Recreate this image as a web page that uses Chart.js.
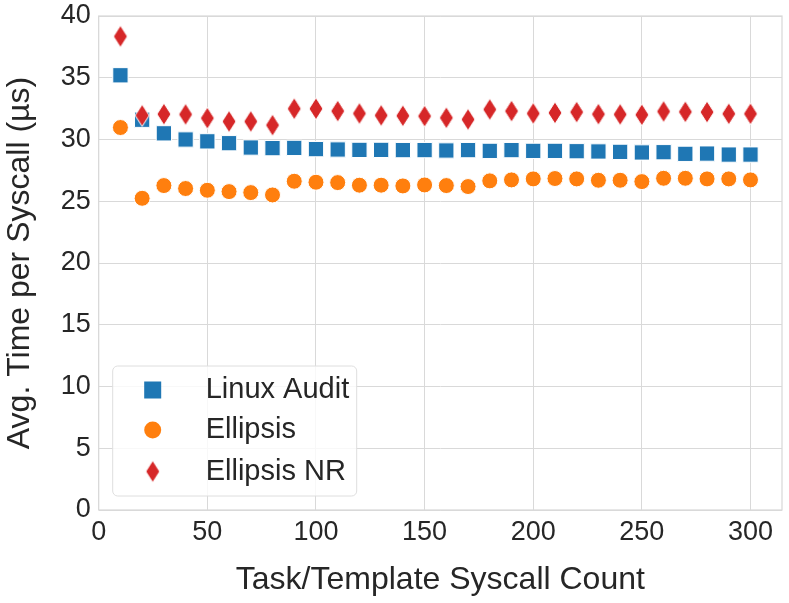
<!DOCTYPE html>
<html><head><meta charset="utf-8">
<script src="https://cdn.jsdelivr.net/npm/chart.js@4.4.1/dist/chart.umd.min.js"></script>
<style>html,body{margin:0;padding:0;background:#fff}#wrap{width:789px;height:603px}</style>
</head><body><div id="wrap"><canvas id="c" width="789" height="603"></canvas></div>
<script>
const counts = [10,20,30,40,50,60,70,80,90,100,110,120,130,140,150,160,170,180,190,200,210,220,230,240,250,260,270,280,290,300];
const linuxAudit = [35.2,31.6,30.5,30.0,29.85,29.7,29.35,29.3,29.32,29.22,29.19,29.16,29.16,29.14,29.14,29.11,29.14,29.08,29.14,29.08,29.08,29.05,29.03,29.0,28.95,28.97,28.84,28.86,28.78,28.78];
const ellipsis = [30.97,25.24,26.27,26.03,25.89,25.78,25.7,25.51,26.62,26.54,26.51,26.3,26.3,26.24,26.32,26.27,26.19,26.65,26.73,26.81,26.84,26.81,26.7,26.7,26.59,26.86,26.86,26.81,26.81,26.73];
const ellipsisNR = [38.35,31.95,32.05,32.03,31.73,31.46,31.46,31.16,32.49,32.49,32.3,32.11,31.95,31.92,31.89,31.76,31.62,32.43,32.3,32.11,32.16,32.22,32.05,32.03,32.0,32.27,32.24,32.22,32.08,32.08];
const seriesNames = ['Linux Audit','Ellipsis','Ellipsis NR'];
const xTicks = [0,50,100,150,200,250,300];
const yTicks = [0,5,10,15,20,25,30,35,40];

const FONT = "'Liberation Sans', Arial, sans-serif";
const TEXT = '#262626';
const GRID = '#d9d9d9';

function makeDiamond(w, h) {
  const c = document.createElement('canvas');
  c.width = w + 2; c.height = h + 2;
  const g = c.getContext('2d');
  const cx = c.width / 2, cy = c.height / 2;
  g.beginPath();
  g.moveTo(cx, cy - h / 2);
  g.lineTo(cx + w / 2, cy);
  g.lineTo(cx, cy + h / 2);
  g.lineTo(cx - w / 2, cy);
  g.closePath();
  g.fillStyle = '#d62728';
  g.fill();
  g.strokeStyle = '#ffffff';
  g.lineWidth = 1;
  g.stroke();
  return c;
}
const diamond = makeDiamond(14, 22);

const toPts = arr => counts.map((x, i) => ({x: x, y: arr[i]}));

const framePlugin = {
  id: 'frame',
  beforeDatasetsDraw(chart) {
    const a = chart.chartArea, ctx = chart.ctx;
    ctx.save();
    ctx.strokeStyle = GRID;
    ctx.lineWidth = 1.25;
    ctx.strokeRect(a.left, a.top, a.right - a.left, a.bottom - a.top);
    ctx.restore();
  }
};

const legendPlugin = {
  id: 'boxLegend',
  afterDraw(chart) {
    const a = chart.chartArea, ctx = chart.ctx;
    const bx = a.left + 14, by = a.bottom - 144, bw = 244, bh = 130, r = 5;
    ctx.save();
    ctx.beginPath();
    ctx.moveTo(bx + r, by);
    ctx.arcTo(bx + bw, by, bx + bw, by + bh, r);
    ctx.arcTo(bx + bw, by + bh, bx, by + bh, r);
    ctx.arcTo(bx, by + bh, bx, by, r);
    ctx.arcTo(bx, by, bx + bw, by, r);
    ctx.closePath();
    ctx.fillStyle = 'rgba(255,255,255,0.8)';
    ctx.fill();
    ctx.strokeStyle = '#dedede';
    ctx.lineWidth = 1;
    ctx.stroke();
    const rows = [a.bottom - 120, a.bottom - 80, a.bottom - 38.5];
    const mx = a.left + 54, tx = a.left + 107;
    chart.data.datasets.forEach((ds, i) => {
      const y = rows[i];
      ctx.fillStyle = ds.backgroundColor;
      if (ds.pointStyle === 'rect') {
        ctx.fillRect(mx - 8.5, y - 8.5, 17, 17);
      } else if (ds.pointStyle === 'circle') {
        ctx.beginPath(); ctx.arc(mx, y, 8.5, 0, Math.PI * 2); ctx.fill();
      } else {
        ctx.drawImage(ds.pointStyle, mx - ds.pointStyle.width / 2, y - ds.pointStyle.height / 2);
      }
      ctx.fillStyle = TEXT;
      ctx.font = '29px ' + FONT;
      ctx.textBaseline = 'middle';
      ctx.textAlign = 'left';
      ctx.fillText(ds.label, tx, y);
    });
    ctx.restore();
  }
};

new Chart(document.getElementById('c'), {
  type: 'scatter',
  data: {
    datasets: [
      {label: seriesNames[0], data: toPts(linuxAudit), order: 2, pointStyle: 'rect', pointRadius: 10.8, pointHoverRadius: 10.8,
       backgroundColor: '#1f77b4', borderColor: '#ffffff', borderWidth: 1},
      {label: seriesNames[1], data: toPts(ellipsis), order: 1, pointStyle: 'circle', pointRadius: 8, pointHoverRadius: 8,
       backgroundColor: '#ff7f0e', borderColor: '#ffffff', borderWidth: 1},
      {label: seriesNames[2], data: toPts(ellipsisNR), order: 0, pointStyle: diamond, pointRadius: 10, pointHoverRadius: 10,
       backgroundColor: '#d62728', borderColor: '#ffffff', borderWidth: 1}
    ]
  },
  options: {
    responsive: false,
    animation: false,
    devicePixelRatio: 1,
    layout: {autoPadding: false, padding: {top: 16, right: 7, left: 0, bottom: 0}},
    plugins: {legend: {display: false}, tooltip: {enabled: false}},
    scales: {
      x: {
        type: 'linear', min: 0, max: 314.5,
        afterBuildTicks(s) { s.ticks = xTicks.map(v => ({value: v})); },
        afterFit(s) { s.height = 93; s.paddingLeft = 0; s.paddingRight = 0; },
        grid: {color: GRID, lineWidth: 1, drawTicks: false},
        border: {display: false},
        ticks: {font: {family: FONT, size: 27}, color: TEXT, padding: 6, maxRotation: 0},
        title: {display: true, text: 'Task/Template Syscall Count', font: {family: FONT, size: 32}, color: TEXT, padding: {top: 0, bottom: 4}}
      },
      y: {
        type: 'linear', min: 0, max: 40,
        afterBuildTicks(s) { s.ticks = yTicks.map(v => ({value: v})); },
        afterFit(s) { s.width = 98.7; s.paddingTop = 0; s.paddingBottom = 0; },
        grid: {color: GRID, lineWidth: 1, drawTicks: false},
        border: {display: false},
        ticks: {font: {family: FONT, size: 27}, color: TEXT, padding: 8},
        title: {display: true, text: 'Avg. Time per Syscall (µs)', font: {family: FONT, size: 32}, color: TEXT, padding: {top: 1, bottom: 0}}
      }
    }
  },
  plugins: [framePlugin, legendPlugin]
});
</script>
</body></html>
